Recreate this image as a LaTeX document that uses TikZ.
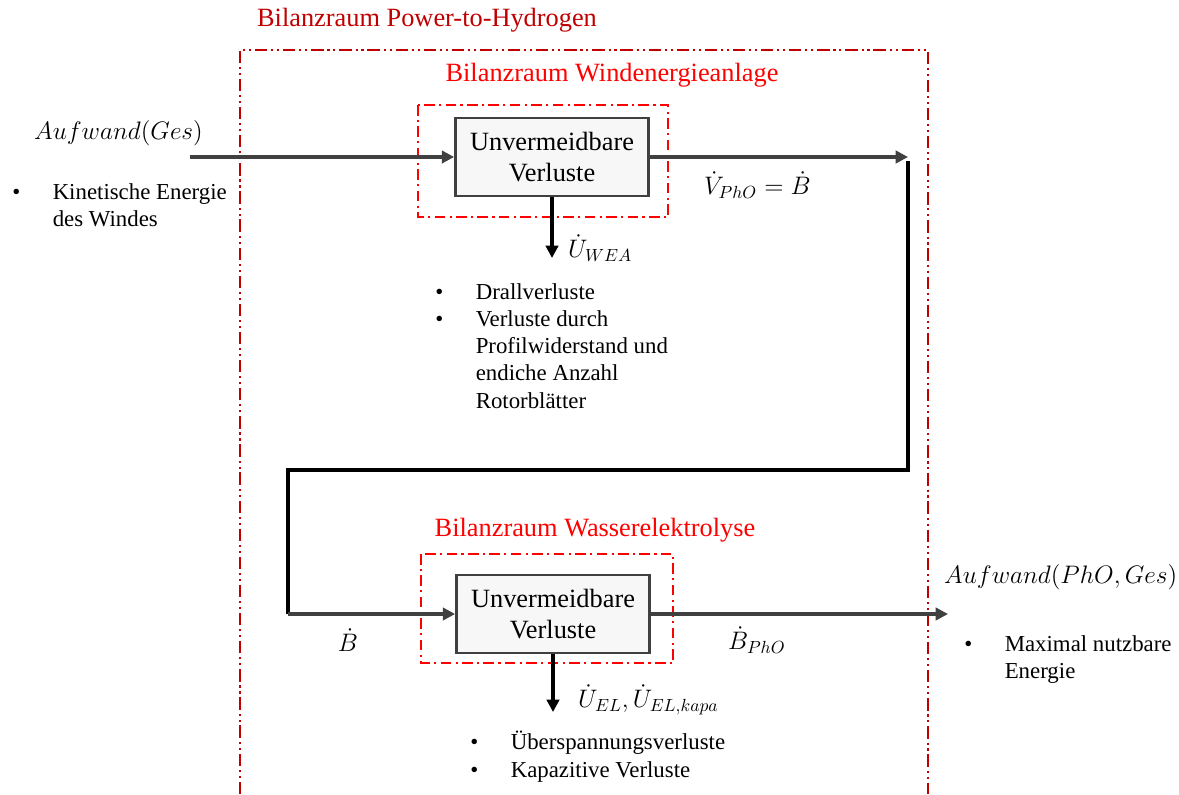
\documentclass[tikz,border=0pt]{standalone}
\usepackage{fontspec}
\setmainfont{Liberation Serif}
\usepackage{amsmath}
\usetikzlibrary{positioning, arrows.meta, calc}

\definecolor{bzdark}{HTML}{C00000}
\definecolor{bzred}{HTML}{FF0000}
\definecolor{flowgray}{HTML}{404040}
\newcommand{\bul}{\makebox[23pt][l]{\textbullet}}
\newcommand{\ind}{\hspace*{23pt}}

\begin{document}
\begin{tikzpicture}[
    x=0.02cm, y=-0.02cm,
    box/.style={draw=flowgray, line width=1.6pt, fill=black!3, minimum width=3.86cm, minimum height=1.56cm, font=\fontsize{15}{18}\selectfont, align=center},
    arrow/.style={-{Triangle[length=7pt, width=7pt]}, line width=2.2pt, draw=flowgray},
    loss/.style={-{Triangle[length=7pt, width=7pt]}, line width=2.2pt},
    pipe/.style={line width=2.4pt},
    outer/.style={draw=bzdark, line width=1pt, dash pattern=on 7pt off 2.2pt on 1.2pt off 2.2pt on 1.2pt off 2.2pt},
    inner/.style={draw=bzred, line width=1pt, dash pattern=on 6pt off 2.5pt on 1.2pt off 2.5pt},
    title/.style={font=\fontsize{15}{18}\selectfont},
    list/.style={font=\fontsize{13}{15.5}\selectfont, align=left, inner sep=0pt},
    flow/.style={font=\fontsize{14}{16}\selectfont}
]
    \useasboundingbox (0,0) rectangle (1179,794);

    % Bilanzraeume
    \draw[outer] (240,794) -- (240,50) -- (928,50) -- (928,794);
    \draw[inner] (418,105) rectangle (668,217);
    \draw[inner] (421,554) rectangle (673,663);

    \node[title, text=bzdark] (titlePtH) at (427,20) {Bilanzraum Power-to-Hydrogen};
    \node[title, text=bzred] (titleWEA) at (612,75) {Bilanzraum Windenergieanlage};
    \node[title, text=bzred] (titleEL) at (595,530) {Bilanzraum Wasserelektrolyse};

    % Bloecke
    \node[box] (blockWEA) at (552,157) {Unvermeidbare\\Verluste};
    \node[box] (blockEL) at (553,614) {Unvermeidbare\\Verluste};

    % Ein- und Ausgaenge
    \coordinate (inStart) at (190,157);
    \coordinate (turnA) at (908,157);
    \coordinate (pipeTop) at (908,161);
    \coordinate (pipeRight) at (908,470);
    \coordinate (pipeLeft) at (288,470);
    \coordinate (pipeBottom) at (288,614);
    \coordinate (outEnd) at (948,614);
    \coordinate (lossWEA) at (552,258);
    \coordinate (lossEL) at (553,712);

    \draw[arrow] (inStart) -- (blockWEA.west);
    \draw[arrow] (blockWEA.east) -- (turnA);
    \draw[pipe] (pipeTop) -- (pipeRight) -- (pipeLeft) -- (pipeBottom);
    \draw[arrow] (pipeBottom) -- (blockEL.west);
    \draw[arrow] (blockEL.east) -- (outEnd);
    \draw[loss] (blockWEA.south) -- (lossWEA);
    \draw[loss] (blockEL.south) -- (lossEL);

    % Groessen
    \node[flow, anchor=west] (aufGes) at (28,133) {$Aufwand(Ges)$};
    \node[flow, anchor=west] (vPhO) at (698,185) {$\dot V_{PhO} = \dot B$};
    \node[flow, anchor=west] (uWEA) at (562,248) {$\dot U_{WEA}$};
    \node[flow] (bIn) at (348,640) {$\dot B$};
    \node[flow, anchor=west] (bPhO) at (722,640) {$\dot B_{PhO}$};
    \node[flow, anchor=west] (aufPhO) at (938,577) {$Aufwand(PhO,Ges)$};
    \node[flow, anchor=west] (uEL) at (572,700) {$\dot U_{EL}, \dot U_{EL,kapa}$};

    % Aufzaehlungen
    \node[list, anchor=north west] (listWind) at (12,183) {\bul Kinetische Energie\\\ind des Windes};
    \node[list, anchor=north west] (listWEA) at (435,283) {\bul Drallverluste\\\bul Verluste durch\\\ind Profilwiderstand und\\\ind endiche Anzahl\\\ind Rotorblätter};
    \node[list, anchor=north west] (listEL) at (470,731) {\bul Überspannungsverluste\\\bul Kapazitive Verluste};
    \node[list, anchor=north west] (listPhO) at (964,635) {\bul Maximal nutzbare\\\ind Energie};
\end{tikzpicture}
\end{document}
